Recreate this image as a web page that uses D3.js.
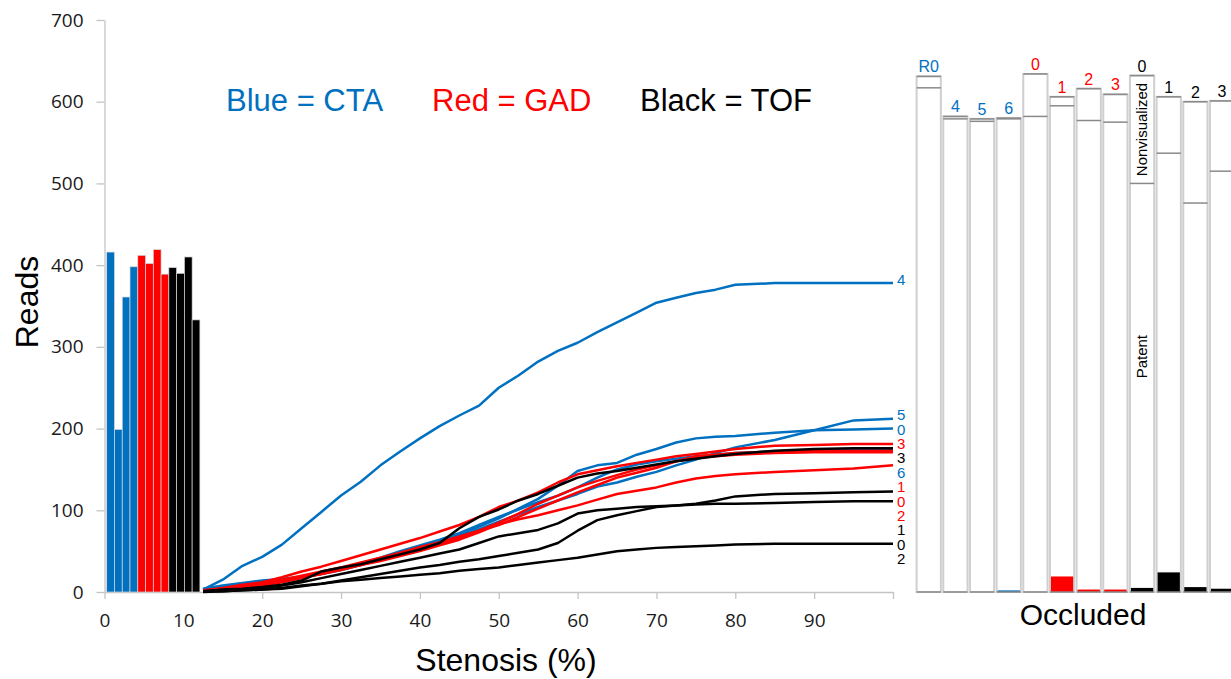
<!DOCTYPE html>
<html>
<head>
<meta charset="utf-8">
<script src="https://cdn.jsdelivr.net/npm/d3@7"></script>
<style>
  body { margin: 0; background: #fff; }
  svg text { font-family: "Liberation Sans", Arial, sans-serif; }
  svg .axis text { font-family: "Open Sans", sans-serif; font-size: 19px; fill: #1a1a1a; }
  .axis path, .axis line { stroke: #c4c4c4; stroke-width: 1.3; }
</style>
</head>
<body>
<div id="chart"></div>
<script>
var width = 1231;
var height = 679;

var groupColors = {CTA: "#0070C0", GAD: "#FF0000", TOF: "#000000"};

// bars on the left (one per scan, x = 1..12)
var barGroups = ["CTA","CTA","CTA","CTA","GAD","GAD","GAD","GAD","TOF","TOF","TOF","TOF"];
var barReads = [416, 199, 361, 398, 412, 402, 419, 389, 397, 390, 410, 333];

// cumulative reads vs stenosis
var stenosis = [12.5, 15, 17.5, 20, 22.5, 25, 27.5, 30, 32.5, 35, 37.5, 40, 42.5, 45, 47.5, 50,
                52.5, 55, 57.5, 60, 62.5, 65, 67.5, 70, 72.5, 75, 77.5, 80, 85, 90, 95, 100];

var cta4 = [3,15,32,43,58,78,98,118,135,155,172,188,203,216,228,250,265,282,295,305,318,330,342,354,360,366,370,376,378,378,378,378];
var cta5 = [3,6,9,12,15,18,22,27,33,40,47,54,61,68,77,86,95,104,112,120,129,134,141,147,155,162,170,177,186,198,210,212];
var cta0 = [4,8,11,14,16,19,23,28,34,40,47,55,62,70,80,90,102,114,130,148,155,158,168,175,183,188,190,191,195,198,199,200];
var cta6 = [3,6,9,12,14,18,23,28,35,42,50,57,64,72,82,92,101,110,118,128,140,150,156,160,163,166,168,170,172,173,174,175];
var gad3 = [2,5,9,12,18,25,31,38,45,52,59,66,74,82,92,104,112,122,134,144,149,154,158,162,166,169,172,175,179,180,181,181];
var gad1 = [2,4,7,10,15,20,25,30,36,42,48,55,61,68,75,82,92,102,112,122,131,140,146,152,160,166,168,170,172,173,173,173];
var gad0 = [1,3,6,9,13,18,22,27,33,40,46,52,59,66,75,85,96,108,118,128,136,143,150,155,160,164,166,168,170,171,171,171];
var gad2 = [1,3,5,8,12,17,22,28,33,38,44,50,57,64,73,83,89,94,100,106,113,120,124,128,134,139,142,144,147,149,151,155];
var tof3 = [1,3,4,6,9,14,25,30,34,40,46,52,60,78,92,101,112,120,130,140,145,148,152,156,160,163,166,169,173,175,176,176];
var tof1 = [0,1,2,3,4,7,10,14,18,22,26,30,33,37,40,44,48,52,60,75,88,94,99,104,106,108,112,117,120,121,122,123];
var tof0 = [1,2,3,5,8,12,17,22,27,32,37,42,47,52,60,68,72,76,84,96,100,102,104,105,106,107,108,108,109,110,111,111];
var tof2 = [1,1,2,3,5,8,10,13,15,17,19,21,23,26,28,30,33,36,39,42,46,50,52,54,55,56,57,58,59,59,59,59];

var lineSeries = [
  {label: "4", group: "CTA", values: cta4},
  {label: "5", group: "CTA", values: cta5},
  {label: "0", group: "CTA", values: cta0},
  {label: "6", group: "CTA", values: cta6},
  {label: "3", group: "GAD", values: gad3},
  {label: "1", group: "GAD", values: gad1},
  {label: "0", group: "GAD", values: gad0},
  {label: "2", group: "GAD", values: gad2},
  {label: "3", group: "TOF", values: tof3},
  {label: "1", group: "TOF", values: tof1},
  {label: "0", group: "TOF", values: tof0},
  {label: "2", group: "TOF", values: tof2}
];

// stacked columns on the right
var colLabels = ["R0","4","5","6","0","1","2","3","0","1","2","3"];
var colGroups = ["CTA","CTA","CTA","CTA","GAD","GAD","GAD","GAD","TOF","TOF","TOF","TOF"];
var occluded = [0, 0, 0, 2, 0, 19, 3, 3, 5, 24, 6, 4];
var patent = [617, 579, 576, 577, 582, 576, 574, 572, 495, 513, 470, 511];
var nonvisualized = [14, 3, 3, 1, 52, 11, 39, 34, 132, 69, 124, 86];

var svg = d3.select("#chart")
    .append("svg")
    .attr("width", width)
    .attr("height", height);

var x = d3.scaleLinear().domain([0, 100]).range([104.5, 893]);
var y = d3.scaleLinear().domain([0, 700]).range([592, 20]);

// y axis
svg.append("g")
    .attr("class", "axis")
    .attr("transform", "translate(104.5,0)")
    .call(d3.axisLeft(y).tickValues(d3.range(0, 701, 100)).tickSize(8).tickPadding(13).tickSizeOuter(0));

// x axis
var xAxis = svg.append("g")
    .attr("class", "axis")
    .attr("transform", "translate(0,592)")
    .call(d3.axisBottom(x).tickValues(d3.range(0, 101, 10))
        .tickFormat(function(d) { return d == 100 ? "" : d; })
        .tickSize(7).tickPadding(15).tickSizeOuter(0));
xAxis.selectAll(".tick").filter(function(d) { return d == 10; }).select("line").remove();

// bars
var xb = d3.scaleBand().domain(d3.range(barReads.length)).range([x(0.28), x(12.1)]).padding(0);
svg.append("g").selectAll("rect")
    .data(barReads)
    .enter().append("rect")
    .attr("x", function(d, i) { return xb(i); })
    .attr("width", xb.bandwidth())
    .attr("y", function(d) { return y(d); })
    .attr("height", function(d) { return y(0) - y(d); })
    .attr("fill", function(d, i) { return groupColors[barGroups[i]]; })
    .attr("stroke", "#d8d8d8")
    .attr("stroke-width", 0.7);

// lines
var line = d3.line()
    .x(function(d, i) { return x(stenosis[i]); })
    .y(function(d) { return y(d); });

svg.append("g").selectAll("path")
    .data(lineSeries)
    .enter().append("path")
    .attr("d", function(d) { return line(d.values); })
    .attr("fill", "none")
    .attr("stroke", function(d) { return groupColors[d.group]; })
    .attr("stroke-width", 2.5)
    .attr("stroke-linejoin", "round");

// end labels, pushed down so they don't overlap
var sorted = lineSeries.slice().sort(function(a, b) {
  return b.values[b.values.length - 1] - a.values[a.values.length - 1];
});
var prev = -100;
sorted.forEach(function(s) {
  var ly = Math.max(y(s.values[s.values.length - 1]) - 4, prev + 14.4);
  prev = ly;
  svg.append("text")
      .attr("x", 897)
      .attr("y", ly)
      .attr("dy", "0.36em")
      .attr("font-size", 15)
      .attr("fill", groupColors[s.group])
      .text(s.label);
});

// legend text
var legend = svg.append("text").attr("y", 111).attr("font-size", 31);
legend.append("tspan").attr("x", 226).attr("fill", groupColors.CTA).text("Blue = CTA");
legend.append("tspan").attr("x", 432).attr("fill", groupColors.GAD).text("Red = GAD");
legend.append("tspan").attr("x", 640).attr("fill", groupColors.TOF).text("Black = TOF");

// axis titles
svg.append("text")
    .attr("transform", "translate(38,302) rotate(-90)")
    .attr("text-anchor", "middle")
    .attr("font-size", 32)
    .text("Reads");

svg.append("text")
    .attr("x", 506)
    .attr("y", 671)
    .attr("text-anchor", "middle")
    .attr("font-size", 32)
    .text("Stenosis (%)");

// right panel
var xc = d3.scaleBand().domain(d3.range(colLabels.length))
    .range([915.4, 1235.4]).paddingInner(0.09).paddingOuter(0.045);

var cols = colLabels.map(function(l, i) {
  return {i: i, label: l, group: colGroups[i], occ: occluded[i],
          mid: occluded[i] + patent[i], total: occluded[i] + patent[i] + nonvisualized[i]};
});

var col = svg.append("g").selectAll("g")
    .data(cols)
    .enter().append("g");

col.append("rect")
    .attr("x", function(d) { return xc(d.i); })
    .attr("width", xc.bandwidth())
    .attr("y", function(d) { return y(d.total); })
    .attr("height", function(d) { return y(0) - y(d.total); })
    .attr("fill", "#fff")
    .attr("stroke", "#cfcfcf")
    .attr("stroke-width", 2);

col.append("rect")
    .attr("x", function(d) { return xc(d.i) + 1; })
    .attr("width", xc.bandwidth() - 2)
    .attr("y", function(d) { return y(d.occ); })
    .attr("height", function(d) { return y(0) - y(d.occ); })
    .attr("fill", function(d) { return groupColors[d.group]; });

col.selectAll("line")
    .data(function(d) { return [d.mid, d.total, 0].map(function(v) { return {i: d.i, v: v}; }); })
    .enter().append("line")
    .attr("x1", function(d) { return xc(d.i); })
    .attr("x2", function(d) { return xc(d.i) + xc.bandwidth(); })
    .attr("y1", function(d) { return y(d.v); })
    .attr("y2", function(d) { return y(d.v); })
    .attr("stroke", "#8a8a8a")
    .attr("stroke-width", 1.5);

col.append("text")
    .attr("x", function(d) { return xc(d.i) + xc.bandwidth() / 2; })
    .attr("y", function(d) { return y(d.total) - 4; })
    .attr("text-anchor", "middle")
    .attr("font-size", 16)
    .attr("fill", function(d) { return groupColors[d.group]; })
    .text(function(d) { return d.label; });

var ref = cols[8];
var cx = xc(ref.i) + xc.bandwidth() / 2;
svg.append("text")
    .attr("transform", "translate(" + cx + "," + ((y(ref.total) + y(ref.mid)) / 2) + ") rotate(-90)")
    .attr("text-anchor", "middle")
    .attr("dy", "0.35em")
    .attr("font-size", 15)
    .text("Nonvisualized");
svg.append("text")
    .attr("transform", "translate(" + cx + "," + y(288) + ") rotate(-90)")
    .attr("text-anchor", "middle")
    .attr("dy", "0.35em")
    .attr("font-size", 15)
    .text("Patent");

svg.append("text")
    .attr("x", 1083)
    .attr("y", 625)
    .attr("text-anchor", "middle")
    .attr("font-size", 30)
    .text("Occluded");
</script>
</body>
</html>
